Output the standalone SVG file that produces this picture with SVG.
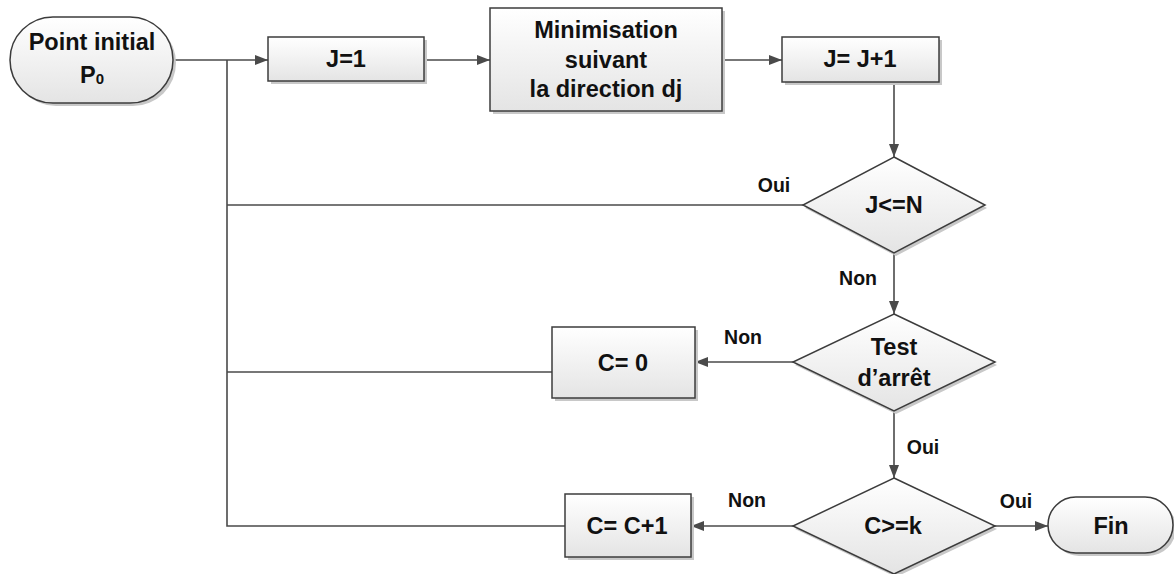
<svg xmlns="http://www.w3.org/2000/svg" width="1174" height="574" viewBox="0 0 1174 574">
<style>
.node{fill:url(#g);stroke:#3c3c3c;stroke-width:1.5}
.sh{fill:#c8c8c8;stroke:none}
.t{font-family:"Liberation Sans",Arial,sans-serif;font-weight:bold;font-size:23.5px;fill:#111;text-anchor:middle}
.lb{font-family:"Liberation Sans",Arial,sans-serif;font-weight:bold;font-size:19.5px;fill:#111;text-anchor:middle}
.c{fill:none;stroke:#4a4a4a;stroke-width:1.6}
</style>
<defs>
<linearGradient id="g" x1="0" y1="0" x2="0" y2="1">
<stop offset="0" stop-color="#ffffff"/>
<stop offset="1" stop-color="#e4e4e4"/>
</linearGradient>
<marker id="a" markerWidth="14" markerHeight="10" refX="13" refY="5" orient="auto" markerUnits="userSpaceOnUse">
<path d="M0,0 L13,5 L0,10 Z" fill="#4a4a4a"/>
</marker>
</defs>
<g id="connectors">
<path class="c" d="M173,60 H268" marker-end="url(#a)"/>
<path class="c" d="M424,60 H490" marker-end="url(#a)"/>
<path class="c" d="M722,60 H782" marker-end="url(#a)"/>
<path class="c" d="M894,82 V157" marker-end="url(#a)"/>
<path class="c" d="M803,205 H227"/>
<path class="c" d="M565,526 H227 V60"/>
<path class="c" d="M552,372 H227"/>
<path class="c" d="M894,253 V314" marker-end="url(#a)"/>
<path class="c" d="M793,362 H695" marker-end="url(#a)"/>
<path class="c" d="M894,411 V478" marker-end="url(#a)"/>
<path class="c" d="M793,526 H691" marker-end="url(#a)"/>
<path class="c" d="M995,526 H1048" marker-end="url(#a)"/>
<text class="lb" x="774" y="192">Oui</text>
<text class="lb" x="858" y="285">Non</text>
<text class="lb" x="743" y="344">Non</text>
<text class="lb" x="923" y="454">Oui</text>
<text class="lb" x="747" y="507">Non</text>
<text class="lb" x="1016" y="508">Oui</text>
</g>
<g id="start">
<rect class="sh" x="13" y="20" width="163" height="86" rx="43"/>
<rect class="node" x="10" y="17" width="163" height="86" rx="43"/>
<text class="t" x="92" y="50">Point initial</text>
<text class="t" x="92" y="83">P<tspan font-size="15" dy="1">0</tspan></text>
</g>
<g id="j1">
<rect class="sh" x="271" y="40" width="156" height="44"/>
<rect class="node" x="268" y="37" width="156" height="44"/>
<text class="t" x="346" y="67">J=1</text>
</g>
<g id="minimisation">
<rect class="sh" x="493" y="11" width="232" height="103"/>
<rect class="node" x="490" y="8" width="232" height="103"/>
<text class="t" x="606" y="38">Minimisation</text>
<text class="t" x="606" y="68">suivant</text>
<text class="t" x="606" y="97">la direction dj</text>
</g>
<g id="jinc">
<rect class="sh" x="785" y="40" width="157" height="45"/>
<rect class="node" x="782" y="37" width="157" height="45"/>
<text class="t" x="860" y="67">J= J+1</text>
</g>
<g id="jleqn">
<polygon class="sh" points="896,160 987,208 896,256 805,208"/>
<polygon class="node" points="894,157 985,205 894,253 803,205"/>
<text class="t" x="894" y="213">J&lt;=N</text>
</g>
<g id="test">
<polygon class="sh" points="896,317 997,365 896,414 795,365"/>
<polygon class="node" points="894,314 995,362 894,411 793,362"/>
<text class="t" x="894" y="355">Test</text>
<text class="t" x="894" y="386">d’arrêt</text>
</g>
<g id="c0">
<rect class="sh" x="555" y="330" width="143" height="71"/>
<rect class="node" x="552" y="327" width="143" height="71"/>
<text class="t" x="623" y="371">C= 0</text>
</g>
<g id="cgek">
<polygon class="sh" points="896,481 997,529 896,577 795,529"/>
<polygon class="node" points="894,478 995,526 894,574 793,526"/>
<text class="t" x="893" y="534">C&gt;=k</text>
</g>
<g id="cinc">
<rect class="sh" x="568" y="497" width="126" height="63"/>
<rect class="node" x="565" y="494" width="126" height="63"/>
<text class="t" x="627" y="534">C= C+1</text>
</g>
<g id="fin">
<rect class="sh" x="1051" y="500" width="125" height="56" rx="28"/>
<rect class="node" x="1048" y="497" width="125" height="56" rx="28"/>
<text class="t" x="1111" y="534">Fin</text>
</g>
</svg>
